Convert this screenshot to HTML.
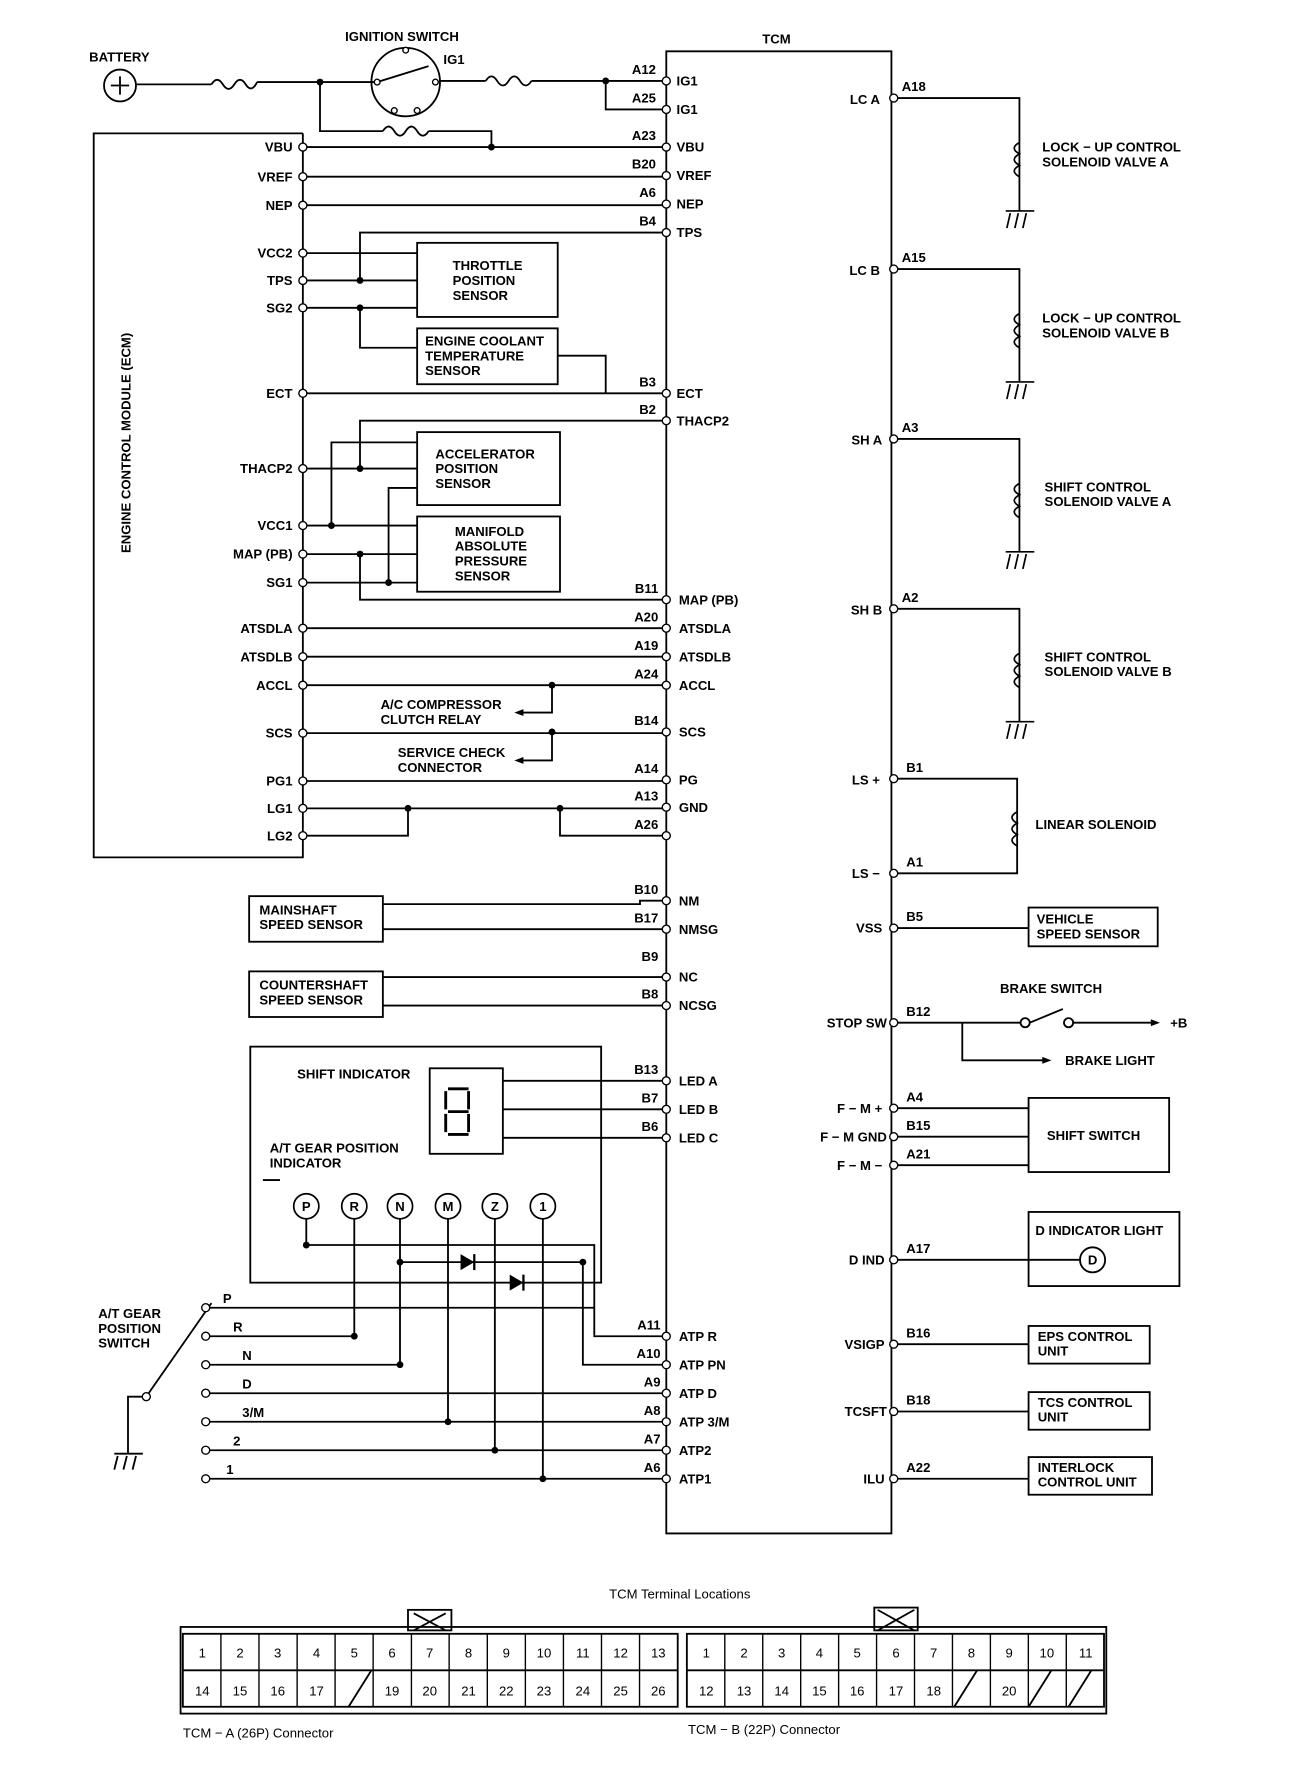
<!DOCTYPE html>
<html><head><meta charset="utf-8"><style>
html,body{margin:0;padding:0;background:#fff;}
svg{display:block;}
text{font-family:"Liberation Sans Narrow","Liberation Sans",sans-serif;font-size:11.5px;fill:#000;}
.t{font-weight:bold;}
</style></head><body>
<svg width="1312" height="1790" viewBox="0 0 1148 1570" preserveAspectRatio="none" xmlns="http://www.w3.org/2000/svg">
<g stroke="#000" stroke-width="1.6" fill="none">
<path d="M583 45H780V1345H583Z"/>
<path d="M265 117H82V752H265V117"/>
<circle cx="105" cy="75" r="14"/><path d="M97 75H113M105 67V83"/>
<path d="M119 74H185M225 72H330"/>
<path d="M185 74q5 -8 10 0t10 0t10 0t10 -2"/>
<circle cx="355" cy="72" r="30"/><path d="M330 72L375 58"/>
<path d="M385 71H425M465 71H583"/><path d="M425 71q5 -8 10 0t10 0t10 0t10 0"/>
<path d="M530 71V96H583"/>
<path d="M280 72V115H335M375 115H430V129"/><path d="M335 115q5 -8 10 0t10 0t10 0t10 0"/>
<path d="M265 129H583M265 155H583M265 180H583"/>
<path d="M583 204H315V246M265 222H365M265 246H365M265 270H365M315 270V305H365"/>
<rect x="365" y="213" width="123" height="65"/><rect x="365" y="288" width="123" height="49"/>
<path d="M488 312H530V345M265 345H583"/>
<path d="M583 369H315V411M265 411H365"/>
<rect x="365" y="379" width="125" height="64"/><rect x="365" y="453" width="125" height="66"/>
<path d="M265 461H365M290 461V388H365M265 486H365M315 486V526H583M265 511H365M340 511V428H365"/>
<path d="M265 551H583M265 576H583M265 601H583M483 601V625H455M265 643H583M483 642V667H455M265 685H583"/>
<path d="M265 709H583M357 709V733H265M490 709V733H583"/>
<rect x="218" y="786" width="117" height="40"/><rect x="218" y="852" width="117" height="40"/>
<path d="M335 793H560V790H583M335 815H583M335 857H583M335 882H583"/>
<rect x="219" y="918" width="307" height="207"/>
<rect x="376" y="937" width="64" height="75"/>
<path d="M440 948H583M440 973H583M440 998H583"/>
<path d="M392 955H410M390 957V973M410 957V973M392 975H410M390 977V993M410 977V993M392 995H410" stroke-width="2.5"/>
<path d="M230 1035H245"/>
<path d="M268 1069V1092H520V1172H583M310 1069V1172M350 1069V1197M392 1069V1247M433 1069V1272M475 1069V1297"/>
<path d="M350 1107H510V1197H583"/>
<path d="M180 1147H520M180 1172H310M180 1197H350M180 1222H583M180 1247H583M180 1272H583M180 1297H583"/>
<path d="M128 1225L185 1143M128 1225H112V1275M100 1275H125M103 1277l-3 12M111 1277l-3 12M119 1277l-3 12"/>
<path d="M785 86H892V185M785 236H892V335M785 385H892V484M785 534H892V633M785 683H890V766H785"/>
<path d="M785 814H900M785 897H893M901 897L930 885M939 897H1010M842 897V930H915M785 972H900M785 997H900M785 1022H900M785 1105H945M785 1179H900M785 1238H900M785 1297H900"/>
<rect x="900" y="796" width="113" height="34"/><rect x="900" y="963" width="123" height="65"/>
<rect x="900" y="1063" width="132" height="65"/><rect x="900" y="1163" width="106" height="33"/>
<rect x="900" y="1221" width="106" height="33"/><rect x="900" y="1278" width="108" height="33"/>
<circle cx="956" cy="1105" r="11"/>
<circle cx="897" cy="897" r="4" fill="#fff"/><circle cx="935" cy="897" r="4" fill="#fff"/>
<rect x="158" y="1427" width="810" height="76"/>
<rect x="160" y="1433" width="433" height="64"/><rect x="601" y="1433" width="365" height="64"/>
<path d="M160 1465H593M601 1465H966"/>
<rect x="357" y="1412" width="38" height="18"/><path d="M362 1415L390 1430M390 1415L362 1430"/>
<rect x="765" y="1410" width="38" height="20"/><path d="M768 1412L800 1430M800 1412L768 1430"/>
<path d="M305 1497L325 1465M835 1497L855 1465M900 1497L920 1465M935 1497L955 1465"/>
</g>
<g stroke="#000" stroke-width="1.2">
<path d="M193.3 1433V1497M226.6 1433V1497M260 1433V1497M293.2 1433V1497M326.5 1433V1497M360 1433V1497M393 1433V1497M426.4 1433V1497M459.7 1433V1497M493 1433V1497M526.3 1433V1497M559.6 1433V1497"/>
<path d="M634.2 1433V1497M667.4 1433V1497M700.6 1433V1497M733.8 1433V1497M767 1433V1497M800.2 1433V1497M833.4 1433V1497M866.6 1433V1497M899.8 1433V1497M933 1433V1497"/>
</g>
<g stroke="#000" stroke-width="1.5" fill="none">
<path d="M892 125q-9 5 0 10q-9 5 0 10q-9 5 0 10"/><path d="M892 275q-9 5 0 10q-9 5 0 10q-9 5 0 10"/>
<path d="M892 424q-9 5 0 10q-9 5 0 10q-9 5 0 10"/><path d="M892 573q-9 5 0 10q-9 5 0 10q-9 5 0 10"/>
<path d="M890 712q-9 5 0 10q-9 5 0 10q-9 5 0 10"/>
<path d="M880 185H905M884 187l-3 13M891 187l-3 13M898 187l-3 13"/>
<path d="M880 335H905M884 337l-3 13M891 337l-3 13M898 337l-3 13"/>
<path d="M880 484H905M884 486l-3 13M891 486l-3 13M898 486l-3 13"/>
<path d="M880 633H905M884 635l-3 13M891 635l-3 13M898 635l-3 13"/>
<circle cx="310" cy="1058" r="11"/><circle cx="350" cy="1058" r="11"/><circle cx="392" cy="1058" r="11"/><circle cx="433" cy="1058" r="11"/><circle cx="475" cy="1058" r="11"/><circle cx="268" cy="1058" r="11"/>
</g>
<g fill="#000">
<path d="M450 625l8 -3v6zM450 667l8 -3v6zM1015 897l-8 -3v6zM920 930l-8 -3v6z"/>
<path d="M403 1100v14l12 -7zM446 1118v14l12 -7z"/><rect x="414" y="1100" width="2" height="14"/><rect x="457" y="1118" width="2" height="14"/>
<circle cx="280" cy="72" r="3"/><circle cx="530" cy="71" r="3"/><circle cx="430" cy="129" r="3"/>
<circle cx="315" cy="246" r="3"/><circle cx="315" cy="270" r="3"/><circle cx="315" cy="411" r="3"/><circle cx="290" cy="461" r="3"/>
<circle cx="315" cy="486" r="3"/><circle cx="340" cy="511" r="3"/><circle cx="483" cy="601" r="3"/><circle cx="483" cy="642" r="3"/>
<circle cx="357" cy="709" r="3"/><circle cx="490" cy="709" r="3"/>
<circle cx="268" cy="1092" r="3"/><circle cx="350" cy="1107" r="3"/><circle cx="510" cy="1107" r="3"/>
<circle cx="310" cy="1172" r="3"/><circle cx="350" cy="1197" r="3"/><circle cx="392" cy="1247" r="3"/><circle cx="433" cy="1272" r="3"/><circle cx="475" cy="1297" r="3"/>
</g>
<g fill="#fff" stroke="#000" stroke-width="1.2">
<circle cx="265" cy="129" r="3.5"/><circle cx="265" cy="155" r="3.5"/><circle cx="265" cy="180" r="3.5"/><circle cx="265" cy="222" r="3.5"/><circle cx="265" cy="246" r="3.5"/><circle cx="265" cy="270" r="3.5"/><circle cx="265" cy="345" r="3.5"/><circle cx="265" cy="411" r="3.5"/><circle cx="265" cy="461" r="3.5"/><circle cx="265" cy="486" r="3.5"/><circle cx="265" cy="511" r="3.5"/><circle cx="265" cy="551" r="3.5"/><circle cx="265" cy="576" r="3.5"/><circle cx="265" cy="601" r="3.5"/><circle cx="265" cy="643" r="3.5"/><circle cx="265" cy="685" r="3.5"/><circle cx="265" cy="709" r="3.5"/><circle cx="265" cy="733" r="3.5"/>
<circle cx="583" cy="71" r="3.5"/><circle cx="583" cy="96" r="3.5"/><circle cx="583" cy="129" r="3.5"/><circle cx="583" cy="154" r="3.5"/><circle cx="583" cy="179" r="3.5"/><circle cx="583" cy="204" r="3.5"/><circle cx="583" cy="345" r="3.5"/><circle cx="583" cy="369" r="3.5"/><circle cx="583" cy="526" r="3.5"/><circle cx="583" cy="551" r="3.5"/><circle cx="583" cy="576" r="3.5"/><circle cx="583" cy="601" r="3.5"/><circle cx="583" cy="642" r="3.5"/><circle cx="583" cy="684" r="3.5"/><circle cx="583" cy="708" r="3.5"/><circle cx="583" cy="733" r="3.5"/><circle cx="583" cy="790" r="3.5"/><circle cx="583" cy="815" r="3.5"/><circle cx="583" cy="857" r="3.5"/><circle cx="583" cy="882" r="3.5"/><circle cx="583" cy="948" r="3.5"/><circle cx="583" cy="973" r="3.5"/><circle cx="583" cy="998" r="3.5"/><circle cx="583" cy="1172" r="3.5"/><circle cx="583" cy="1197" r="3.5"/><circle cx="583" cy="1222" r="3.5"/><circle cx="583" cy="1247" r="3.5"/><circle cx="583" cy="1272" r="3.5"/><circle cx="583" cy="1297" r="3.5"/>
<circle cx="782" cy="86" r="3.5"/><circle cx="782" cy="236" r="3.5"/><circle cx="782" cy="385" r="3.5"/><circle cx="782" cy="534" r="3.5"/><circle cx="782" cy="683" r="3.5"/><circle cx="782" cy="766" r="3.5"/><circle cx="782" cy="814" r="3.5"/><circle cx="782" cy="897" r="3.5"/><circle cx="782" cy="972" r="3.5"/><circle cx="782" cy="997" r="3.5"/><circle cx="782" cy="1022" r="3.5"/><circle cx="782" cy="1105" r="3.5"/><circle cx="782" cy="1179" r="3.5"/><circle cx="782" cy="1238" r="3.5"/><circle cx="782" cy="1297" r="3.5"/>
<circle cx="180" cy="1147" r="3.5"/><circle cx="180" cy="1172" r="3.5"/><circle cx="180" cy="1197" r="3.5"/><circle cx="180" cy="1222" r="3.5"/><circle cx="180" cy="1247" r="3.5"/><circle cx="180" cy="1272" r="3.5"/><circle cx="180" cy="1297" r="3.5"/><circle cx="128" cy="1225" r="3.5"/>
<circle cx="355" cy="44" r="2.5"/><circle cx="381" cy="72" r="2.5"/><circle cx="330" cy="72" r="2.5"/><circle cx="345" cy="97" r="2.5"/><circle cx="365" cy="97" r="2.5"/>
</g>
<g class="t">
<text x="78" y="54">BATTERY</text><text x="302" y="36">IGNITION SWITCH</text><text x="388" y="56">IG1</text><text x="667" y="38">TCM</text>
<text x="114" y="485" transform="rotate(-90 114 485)" font-size="11">ENGINE CONTROL MODULE (ECM)</text>
<g text-anchor="end">
<text x="256" y="133">VBU</text><text x="256" y="159">VREF</text><text x="256" y="184">NEP</text><text x="256" y="226">VCC2</text><text x="256" y="250">TPS</text><text x="256" y="274">SG2</text><text x="256" y="349">ECT</text><text x="256" y="415">THACP2</text><text x="256" y="465">VCC1</text><text x="256" y="490">MAP (PB)</text><text x="256" y="515">SG1</text><text x="256" y="555">ATSDLA</text><text x="256" y="580">ATSDLB</text><text x="256" y="605">ACCL</text><text x="256" y="647">SCS</text><text x="256" y="689">PG1</text><text x="256" y="713">LG1</text><text x="256" y="737">LG2</text>
<text x="574" y="65">A12</text><text x="574" y="90">A25</text><text x="574" y="123">A23</text><text x="574" y="148">B20</text><text x="574" y="173">A6</text><text x="574" y="198">B4</text><text x="574" y="339">B3</text><text x="574" y="363">B2</text><text x="576" y="520">B11</text><text x="576" y="545">A20</text><text x="576" y="570">A19</text><text x="576" y="595">A24</text><text x="576" y="636">B14</text><text x="576" y="678">A14</text><text x="576" y="702">A13</text><text x="576" y="727">A26</text><text x="576" y="784">B10</text><text x="576" y="809">B17</text><text x="576" y="843">B9</text><text x="576" y="876">B8</text><text x="576" y="942">B13</text><text x="576" y="967">B7</text><text x="576" y="992">B6</text><text x="578" y="1166">A11</text><text x="578" y="1191">A10</text><text x="578" y="1216">A9</text><text x="578" y="1241">A8</text><text x="578" y="1266">A7</text><text x="578" y="1291">A6</text>
<text x="770" y="91">LC A</text><text x="770" y="241">LC B</text><text x="772" y="390">SH A</text><text x="772" y="539">SH B</text><text x="770" y="688">LS +</text><text x="770" y="770">LS −</text><text x="772" y="818">VSS</text><text x="776" y="901">STOP SW</text><text x="772" y="976">F − M +</text><text x="776" y="1001">F − M GND</text><text x="772" y="1026">F − M −</text><text x="774" y="1109">D IND</text><text x="774" y="1183">VSIGP</text><text x="776" y="1242">TCSFT</text><text x="774" y="1301">ILU</text>
</g>
<text x="592" y="75">IG1</text><text x="592" y="100">IG1</text><text x="592" y="133">VBU</text><text x="592" y="158">VREF</text><text x="592" y="183">NEP</text><text x="592" y="208">TPS</text><text x="592" y="349">ECT</text><text x="592" y="373">THACP2</text><text x="594" y="530">MAP (PB)</text><text x="594" y="555">ATSDLA</text><text x="594" y="580">ATSDLB</text><text x="594" y="605">ACCL</text><text x="594" y="646">SCS</text><text x="594" y="688">PG</text><text x="594" y="712">GND</text><text x="594" y="794">NM</text><text x="594" y="819">NMSG</text><text x="594" y="861">NC</text><text x="594" y="886">NCSG</text><text x="594" y="952">LED A</text><text x="594" y="977">LED B</text><text x="594" y="1002">LED C</text><text x="594" y="1176">ATP R</text><text x="594" y="1201">ATP PN</text><text x="594" y="1226">ATP D</text><text x="594" y="1251">ATP 3/M</text><text x="594" y="1276">ATP2</text><text x="594" y="1301">ATP1</text>
<text x="789" y="80">A18</text><text x="789" y="230">A15</text><text x="789" y="379">A3</text><text x="789" y="528">A2</text><text x="793" y="677">B1</text><text x="793" y="760">A1</text><text x="793" y="808">B5</text><text x="793" y="891">B12</text><text x="793" y="966">A4</text><text x="793" y="991">B15</text><text x="793" y="1016">A21</text><text x="793" y="1099">A17</text><text x="793" y="1173">B16</text><text x="793" y="1232">B18</text><text x="793" y="1291">A22</text>
<text x="396" y="237">THROTTLE</text><text x="396" y="250">POSITION</text><text x="396" y="263">SENSOR</text>
<text x="372" y="303">ENGINE COOLANT</text><text x="372" y="316">TEMPERATURE</text><text x="372" y="329">SENSOR</text>
<text x="381" y="402">ACCELERATOR</text><text x="381" y="415">POSITION</text><text x="381" y="428">SENSOR</text>
<text x="398" y="470">MANIFOLD</text><text x="398" y="483">ABSOLUTE</text><text x="398" y="496">PRESSURE</text><text x="398" y="509">SENSOR</text>
<text x="333" y="622">A/C COMPRESSOR</text><text x="333" y="635">CLUTCH RELAY</text>
<text x="348" y="664">SERVICE CHECK</text><text x="348" y="677">CONNECTOR</text>
<text x="227" y="802">MAINSHAFT</text><text x="227" y="815">SPEED SENSOR</text>
<text x="227" y="868">COUNTERSHAFT</text><text x="227" y="881">SPEED SENSOR</text>
<text x="260" y="946">SHIFT INDICATOR</text><text x="236" y="1011">A/T GEAR POSITION</text><text x="236" y="1024">INDICATOR</text>
<g text-anchor="middle" font-size="10"><text x="268" y="1062">P</text><text x="310" y="1062">R</text><text x="350" y="1062">N</text><text x="392" y="1062">M</text><text x="433" y="1062">Z</text><text x="475" y="1062">1</text><text x="956" y="1109">D</text></g>
<text x="86" y="1156">A/T GEAR</text><text x="86" y="1169">POSITION</text><text x="86" y="1182">SWITCH</text>
<text x="195" y="1143">P</text><text x="204" y="1168">R</text><text x="212" y="1193">N</text><text x="212" y="1218">D</text><text x="212" y="1243">3/M</text><text x="204" y="1268">2</text><text x="198" y="1293">1</text>
<text x="912" y="133">LOCK − UP CONTROL</text><text x="912" y="146">SOLENOID VALVE A</text>
<text x="912" y="283">LOCK − UP CONTROL</text><text x="912" y="296">SOLENOID VALVE B</text>
<text x="914" y="431">SHIFT CONTROL</text><text x="914" y="444">SOLENOID VALVE A</text>
<text x="914" y="580">SHIFT CONTROL</text><text x="914" y="593">SOLENOID VALVE B</text>
<text x="906" y="727">LINEAR SOLENOID</text>
<text x="907" y="810">VEHICLE</text><text x="907" y="823">SPEED SENSOR</text>
<text x="875" y="871">BRAKE SWITCH</text><text x="1024" y="901">+B</text><text x="932" y="934">BRAKE LIGHT</text>
<text x="916" y="1000">SHIFT SWITCH</text><text x="906" y="1083">D INDICATOR LIGHT</text>
<text x="908" y="1176">EPS CONTROL</text><text x="908" y="1189">UNIT</text>
<text x="908" y="1234">TCS CONTROL</text><text x="908" y="1247">UNIT</text>
<text x="908" y="1291">INTERLOCK</text><text x="908" y="1304">CONTROL UNIT</text>
<text x="533" y="1402" font-weight="normal">TCM Terminal Locations</text>
<text x="160" y="1524" font-weight="normal">TCM − A (26P) Connector</text><text x="602" y="1521" font-weight="normal">TCM − B (22P) Connector</text>
</g>
<g text-anchor="middle" font-size="14">
<text x="177" y="1454">1</text><text x="210" y="1454">2</text><text x="243" y="1454">3</text><text x="277" y="1454">4</text><text x="310" y="1454">5</text><text x="343" y="1454">6</text><text x="376" y="1454">7</text><text x="410" y="1454">8</text><text x="443" y="1454">9</text><text x="476" y="1454">10</text><text x="510" y="1454">11</text><text x="543" y="1454">12</text><text x="576" y="1454">13</text>
<text x="177" y="1487">14</text><text x="210" y="1487">15</text><text x="243" y="1487">16</text><text x="277" y="1487">17</text><text x="343" y="1487">19</text><text x="376" y="1487">20</text><text x="410" y="1487">21</text><text x="443" y="1487">22</text><text x="476" y="1487">23</text><text x="510" y="1487">24</text><text x="543" y="1487">25</text><text x="576" y="1487">26</text>
<text x="618" y="1454">1</text><text x="651" y="1454">2</text><text x="684" y="1454">3</text><text x="717" y="1454">4</text><text x="750" y="1454">5</text><text x="784" y="1454">6</text><text x="817" y="1454">7</text><text x="850" y="1454">8</text><text x="883" y="1454">9</text><text x="916" y="1454">10</text><text x="950" y="1454">11</text>
<text x="618" y="1487">12</text><text x="651" y="1487">13</text><text x="684" y="1487">14</text><text x="717" y="1487">15</text><text x="750" y="1487">16</text><text x="784" y="1487">17</text><text x="817" y="1487">18</text><text x="883" y="1487">20</text>
</g>
</svg>
</body></html>
